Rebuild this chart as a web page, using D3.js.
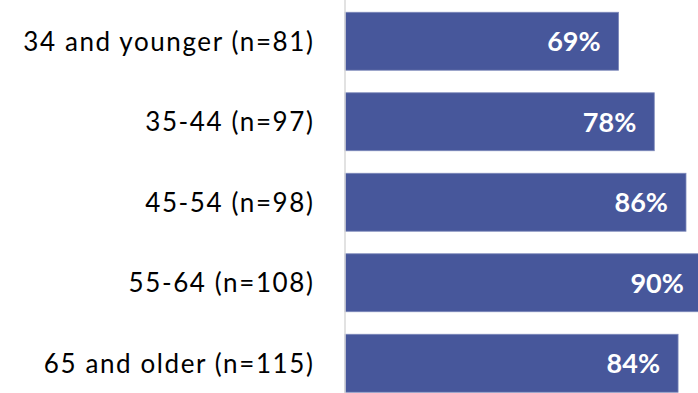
<!DOCTYPE html>
<html>
<head>
<meta charset="utf-8">
<script src="https://cdn.jsdelivr.net/npm/d3@7"></script>
<style>
  html, body { margin: 0; padding: 0; background: #fff; }
  svg { display: block; }
</style>
</head>
<body>
<svg id="chart" width="698" height="393"></svg>
<script>
// Share by age group
const categories = ["34 and younger (n=81)", "35-44 (n=97)", "45-54 (n=98)", "55-64 (n=108)", "65 and older (n=115)"];
const values = [69, 78, 86, 90, 84];

const svg = d3.select("#chart");
const axisX = 345;

const x = d3.scaleLinear().domain([0, 100]).range([axisX, 741.5]);
const y = d3.scaleBand().domain(categories).range([1, 403.5]).paddingInner(0.28).paddingOuter(0.14);

const rows = categories.map((c, i) => ({ cat: c, val: values[i] }));

svg.selectAll("rect.bar")
  .data(rows)
  .join("rect")
  .attr("class", "bar")
  .attr("x", x(0))
  .attr("y", d => y(d.cat))
  .attr("width", d => x(d.val) - x(0))
  .attr("height", y.bandwidth())
  .attr("fill", "#47579b")
  .attr("stroke", "#7d88ba")
  .attr("stroke-width", 0.8);

// vertical category axis line
svg.append("line")
  .attr("x1", axisX).attr("x2", axisX)
  .attr("y1", 0).attr("y2", 393)
  .attr("stroke", "#d9d9d9")
  .attr("stroke-width", 1.5);

// category labels
svg.selectAll("text.cat")
  .data(rows)
  .join("text")
  .attr("class", "cat")
  .attr("x", axisX - 30.5)
  .attr("y", d => y(d.cat) + y.bandwidth() / 2 + 9.5)
  .attr("text-anchor", "end")
  .attr("font-family", "Lato, 'Open Sans', sans-serif")
  .attr("font-size", 26)
  .attr("letter-spacing", 1.6)
  .attr("fill", "#000")
  .text(d => d.cat);

// value labels inside bars
svg.selectAll("text.val")
  .data(rows)
  .join("text")
  .attr("class", "val")
  .attr("x", d => x(d.val) - 18)
  .attr("y", d => y(d.cat) + y.bandwidth() / 2 + 10)
  .attr("text-anchor", "end")
  .attr("font-family", "Lato, 'Open Sans', sans-serif")
  .attr("font-weight", "bold")
  .attr("font-size", 27)
  .attr("fill", "#fff")
  .text(d => d.val + "%");
</script>
</body>
</html>
